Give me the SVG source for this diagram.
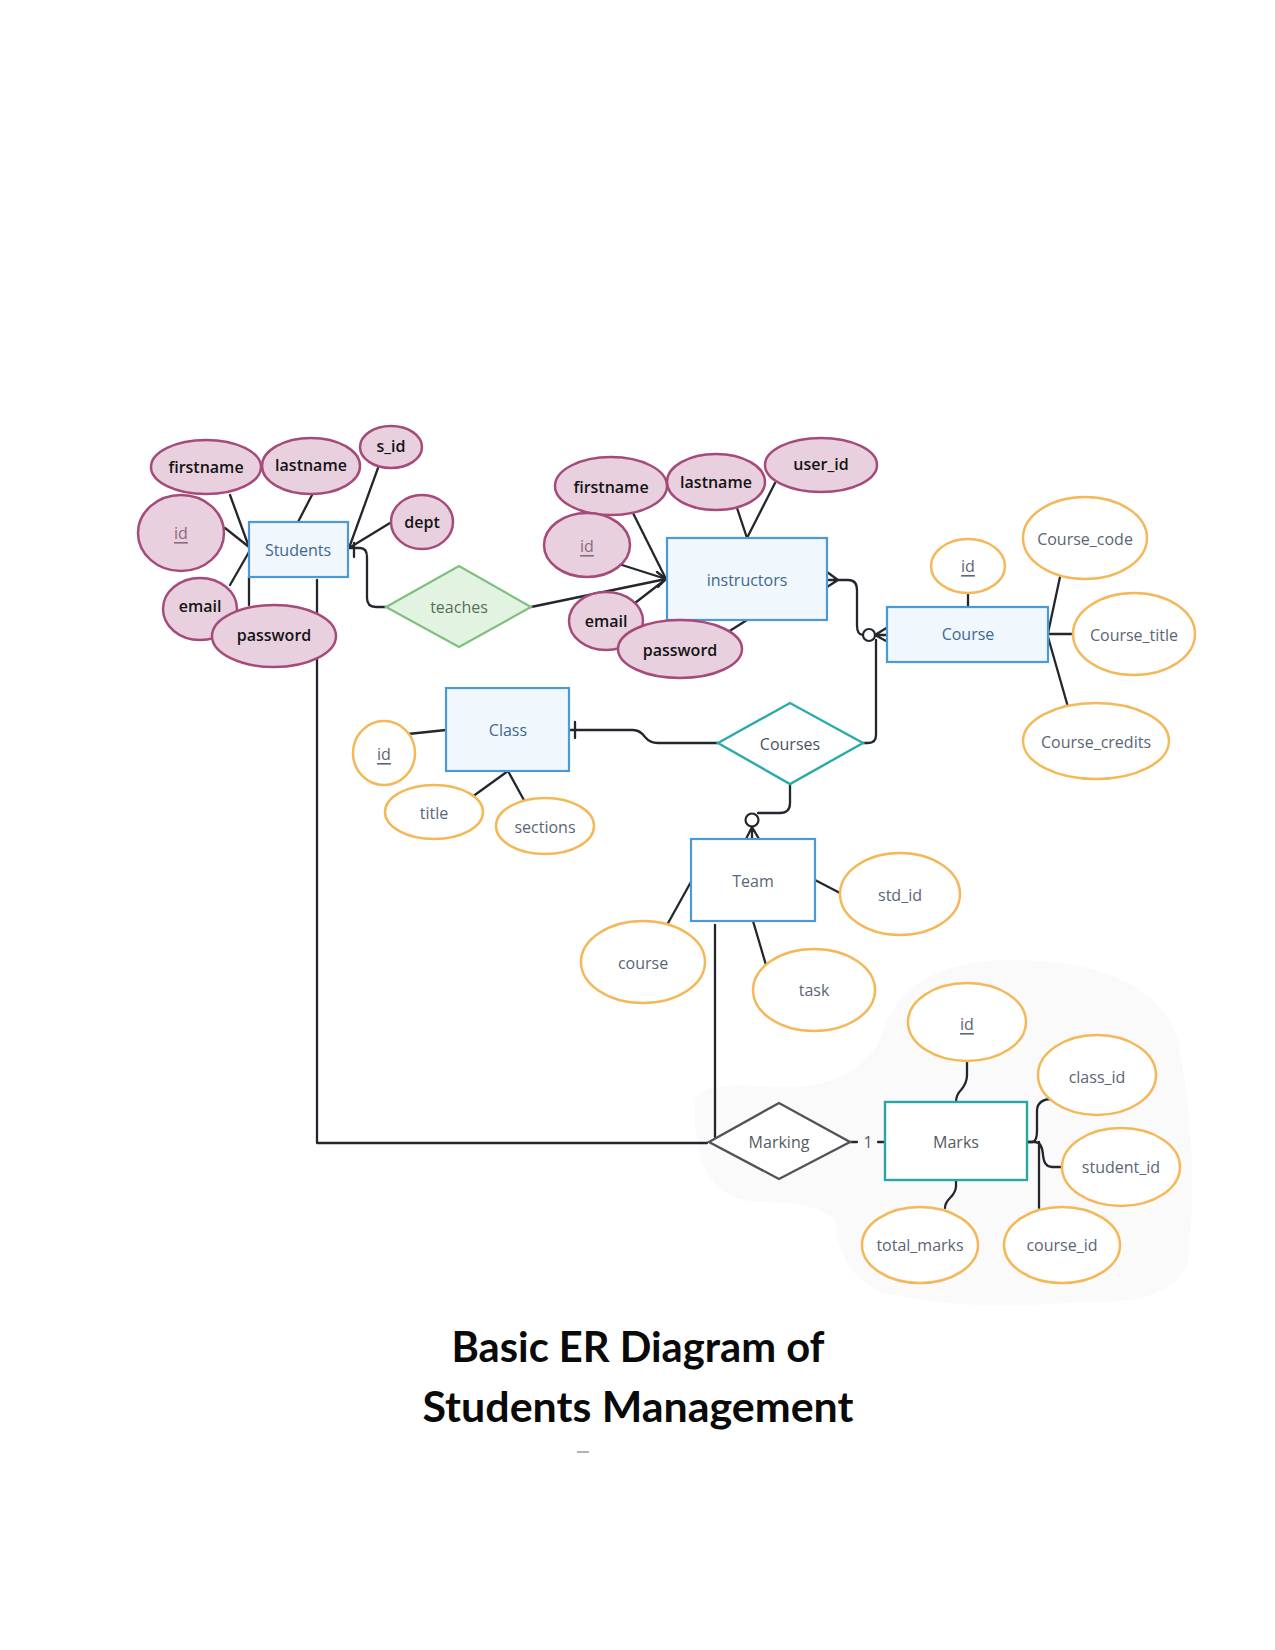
<svg xmlns="http://www.w3.org/2000/svg" width="1275" height="1650" viewBox="0 0 1275 1650">
<style>
.pink{fill:#e8d0de;stroke:#a54b7b;stroke-width:2.5}
.orange{fill:#ffffff;stroke:#f4b858;stroke-width:2.5}
.ent{fill:#f0f7fd;stroke:#4a9ad8;stroke-width:2.2}
.entw{fill:#ffffff;stroke:#4a9ad8;stroke-width:2.2}
.pt{font-family:"Open Sans","Liberation Sans",sans-serif;font-size:16px;font-weight:600;fill:#141414;text-anchor:middle;dominant-baseline:central}
.pid{font-family:"Open Sans","Liberation Sans",sans-serif;font-size:16px;fill:#8c6a80;text-anchor:middle;dominant-baseline:central;text-decoration:underline}
.et{font-family:"Open Sans","Liberation Sans",sans-serif;font-size:16px;fill:#40698f;text-anchor:middle;dominant-baseline:central}
.ot{font-family:"Open Sans","Liberation Sans",sans-serif;font-size:16px;fill:#5a6577;text-anchor:middle;dominant-baseline:central}
.oid{font-family:"Open Sans","Liberation Sans",sans-serif;font-size:16px;fill:#5a6577;text-anchor:middle;dominant-baseline:central;text-decoration:underline}
.ln{fill:none;stroke:#23272d;stroke-width:2.3;stroke-linecap:round;stroke-linejoin:round}
.title{font-family:Lato,"Open Sans","Liberation Sans",sans-serif;font-weight:700;font-size:42px;fill:#0a0a0a;text-anchor:middle}
</style>
<rect width="1275" height="1650" fill="#ffffff"/>
<path d="M 695 1105 Q 692 1082 760 1086 Q 850 1095 880 1040 Q 900 965 1000 960 Q 1150 958 1178 1040 Q 1200 1150 1188 1262 Q 1172 1306 1080 1302 Q 960 1312 880 1292 Q 838 1272 836 1222 Q 822 1202 760 1202 Q 692 1200 695 1105 Z" fill="#fafafb"/>

<g id="connectors">
<path class="ln" d="M 230 495 L 249 547"/>
<path class="ln" d="M 225 528 L 249 547"/>
<path class="ln" d="M 230 585 L 249 552"/>
<path class="ln" d="M 249 605 L 249 577"/>
<path class="ln" d="M 312 495 L 298 522"/>
<path class="ln" d="M 378 468 L 349 548"/>
<path class="ln" d="M 390 523 L 349 548"/>
<path class="ln" d="M 350 548 H 360 Q 367 548 367 557 V 598 Q 367 607 376 607 H 386"/>
<path class="ln" d="M 354 543 V 557"/>
<path class="ln" d="M 633 513 L 666 579"/>
<path class="ln" d="M 622 565 L 666 579"/>
<path class="ln" d="M 531 607 L 666 579"/>
<path class="ln" d="M 635 603 L 666 579"/>
<path class="ln" d="M 657 572 L 666 579 L 658 587"/>
<path class="ln" d="M 728 632 L 747 620"/>
<path class="ln" d="M 737 508 L 747 538"/>
<path class="ln" d="M 775 483 L 747 538"/>
<path class="ln" d="M 827 572 L 838 580 L 827 587 M 827 580 H 848 Q 857 580 857 590 V 625 Q 857 635 863 635"/>
<circle cx="869" cy="635" r="6" fill="#ffffff" stroke="#23272d" stroke-width="2.2"/>
<path class="ln" d="M 875 635 L 888 627 M 875 635 L 888 635 M 875 635 L 888 642"/>
<path class="ln" d="M 863 743 H 868 Q 876 743 876 735 V 640"/>
<path class="ln" d="M 968 593 V 607"/>
<path class="ln" d="M 1060 577 L 1048 633"/>
<path class="ln" d="M 1048 634 H 1073"/>
<path class="ln" d="M 1048 637 L 1068 707"/>
<path class="ln" d="M 408 734 L 446 730"/>
<path class="ln" d="M 472 797 L 508 771"/>
<path class="ln" d="M 525 802 L 508 771"/>
<path class="ln" d="M 569 730 H 633 Q 640 730 645 737 Q 650 743 658 743 H 718"/>
<path class="ln" d="M 575 722 V 738"/>
<path class="ln" d="M 790 784 V 803 Q 790 813 780 813 H 758"/>
<circle cx="752" cy="820" r="6.5" fill="#ffffff" stroke="#23272d" stroke-width="2.2"/>
<path class="ln" d="M 752 827 L 746 839 M 752 827 L 752 839 M 752 827 L 759 839"/>
<path class="ln" d="M 815 880 L 840 893"/>
<path class="ln" d="M 692 880 L 667 925"/>
<path class="ln" d="M 753 921 L 766 965"/>
<path class="ln" d="M 715 925 V 1137"/>
<path class="ln" d="M 317 580 V 1143 H 707"/>
<path class="ln" d="M 850 1142 H 857 M 878 1142 H 885"/>
<path class="ln" d="M 967 1062 V 1075 Q 967 1083 961 1090 Q 956 1095 956 1102"/>
<path class="ln" d="M 956 1180 V 1186 Q 956 1192 950 1198 Q 945 1203 945 1208"/>
<path class="ln" d="M 1027 1142 H 1032 Q 1037 1142 1037 1130 V 1110 Q 1038 1099 1052 1099"/>
<path class="ln" d="M 1027 1142 H 1035 Q 1042 1142 1043 1155 Q 1044 1167 1052 1167 H 1063"/>
<path class="ln" d="M 1039 1142 V 1208"/>
</g>

<g id="students">
<rect class="ent" x="249" y="522" width="99" height="55"/>
<text class="et" x="298" y="550">Students</text>
</g>
<g id="students-firstname"><ellipse class="pink" cx="206" cy="467" rx="55" ry="27"/><text class="pt" x="206" y="467">firstname</text></g>
<g id="students-lastname"><ellipse class="pink" cx="311" cy="466" rx="49" ry="28"/><text class="pt" x="311" y="465">lastname</text></g>
<g id="students-sid"><ellipse class="pink" cx="391" cy="447" rx="31" ry="21"/><text class="pt" x="391" y="446">s_id</text></g>
<g id="students-id"><ellipse class="pink" cx="181" cy="533" rx="43" ry="38"/><text class="pid" x="181" y="533">id</text></g>
<g id="students-dept"><ellipse class="pink" cx="422" cy="522" rx="31" ry="27"/><text class="pt" x="422" y="522">dept</text></g>
<g id="students-email"><ellipse class="pink" cx="200" cy="609" rx="37" ry="31"/><text class="pt" x="200" y="606">email</text></g>
<g id="students-password"><ellipse class="pink" cx="274" cy="636" rx="62" ry="31"/><text class="pt" x="274" y="635">password</text></g>

<g id="teaches">
<polygon points="386,607 459,566 531,607 459,647" fill="#e3f3e1" stroke="#7fbf7f" stroke-width="2.2"/>
<text class="ot" x="459" y="607" style="fill:#55705a">teaches</text>
</g>

<g id="instructors">
<rect class="ent" x="667" y="538" width="160" height="82"/>
<text class="et" x="747" y="580">instructors</text>
</g>
<g id="instructors-firstname"><ellipse class="pink" cx="611" cy="486" rx="56" ry="29"/><text class="pt" x="611" y="487">firstname</text></g>
<g id="instructors-lastname"><ellipse class="pink" cx="716" cy="482" rx="49" ry="28"/><text class="pt" x="716" y="482">lastname</text></g>
<g id="instructors-userid"><ellipse class="pink" cx="821" cy="465" rx="56" ry="27"/><text class="pt" x="821" y="464">user_id</text></g>
<g id="instructors-id"><ellipse class="pink" cx="587" cy="545" rx="43" ry="32"/><text class="pid" x="587" y="546">id</text></g>
<g id="instructors-email"><ellipse class="pink" cx="606" cy="621" rx="37" ry="29"/><text class="pt" x="606" y="621">email</text></g>
<g id="instructors-password"><ellipse class="pink" cx="680" cy="649" rx="62" ry="29"/><text class="pt" x="680" y="650">password</text></g>

<g id="course">
<rect class="ent" x="887" y="607" width="161" height="55"/>
<text class="et" x="968" y="634">Course</text>
</g>
<g id="course-id"><ellipse class="orange" cx="968" cy="566" rx="37" ry="27"/><text class="oid" x="968" y="566">id</text></g>
<g id="course-code"><ellipse class="orange" cx="1085" cy="538" rx="62" ry="41"/><text class="ot" x="1085" y="539">Course_code</text></g>
<g id="course-title"><ellipse class="orange" cx="1134" cy="634" rx="61" ry="41"/><text class="ot" x="1134" y="635">Course_title</text></g>
<g id="course-credits"><ellipse class="orange" cx="1096" cy="741" rx="73" ry="38"/><text class="ot" x="1096" y="742">Course_credits</text></g>

<g id="class">
<rect class="ent" x="446" y="688" width="123" height="83"/>
<text class="et" x="508" y="730">Class</text>
</g>
<g id="class-id"><ellipse class="orange" cx="384" cy="753" rx="31" ry="32"/><text class="oid" x="384" y="754">id</text></g>
<g id="class-title"><ellipse class="orange" cx="434" cy="812" rx="49" ry="27"/><text class="ot" x="434" y="813">title</text></g>
<g id="class-sections"><ellipse class="orange" cx="545" cy="826" rx="49" ry="28"/><text class="ot" x="545" y="827">sections</text></g>

<g id="courses">
<polygon points="718,743 790,703 863,743 790,784" fill="#ffffff" stroke="#2aabab" stroke-width="2.4"/>
<text class="ot" x="790" y="744" style="fill:#4a5360">Courses</text>
</g>

<g id="team">
<rect class="entw" x="691" y="839" width="124" height="82"/>
<text class="ot" x="753" y="881">Team</text>
</g>
<g id="team-stdid"><ellipse class="orange" cx="900" cy="894" rx="60" ry="41"/><text class="ot" x="900" y="895">std_id</text></g>
<g id="team-course"><ellipse class="orange" cx="643" cy="962" rx="62" ry="41"/><text class="ot" x="643" y="963">course</text></g>
<g id="team-task"><ellipse class="orange" cx="814" cy="990" rx="61" ry="41"/><text class="ot" x="814" y="990">task</text></g>

<g id="marking">
<polygon points="709,1142 779,1103 850,1142 779,1179" fill="#ffffff" stroke="#505357" stroke-width="2.4"/>
<text class="ot" x="779" y="1142" style="fill:#555b63">Marking</text>
<text class="ot" x="868" y="1142" style="fill:#555b63">1</text>
</g>

<g id="marks">
<rect x="885" y="1102" width="142" height="78" fill="#ffffff" stroke="#2aa6a6" stroke-width="2.4"/>
<text class="ot" x="956" y="1142" style="fill:#555b63">Marks</text>
</g>
<g id="marks-id"><ellipse class="orange" cx="967" cy="1022" rx="59" ry="39"/><text class="oid" x="967" y="1024">id</text></g>
<g id="marks-classid"><ellipse class="orange" cx="1097" cy="1075" rx="59" ry="40"/><text class="ot" x="1097" y="1077">class_id</text></g>
<g id="marks-studentid"><ellipse class="orange" cx="1121" cy="1167" rx="59" ry="39"/><text class="ot" x="1121" y="1167">student_id</text></g>
<g id="marks-totalmarks"><ellipse class="orange" cx="920" cy="1245" rx="58" ry="38"/><text class="ot" x="920" y="1245">total_marks</text></g>
<g id="marks-courseid"><ellipse class="orange" cx="1062" cy="1245" rx="58" ry="38"/><text class="ot" x="1062" y="1245">course_id</text></g>

<g id="title">
<text class="title" x="638" y="1362" textLength="373" lengthAdjust="spacingAndGlyphs">Basic ER Diagram of</text>
<text class="title" x="638" y="1422" textLength="431" lengthAdjust="spacingAndGlyphs">Students Management</text>
<line x1="577" y1="1452" x2="589" y2="1452" stroke="#9a9a9a" stroke-width="1.5"/>
</g>
</svg>
